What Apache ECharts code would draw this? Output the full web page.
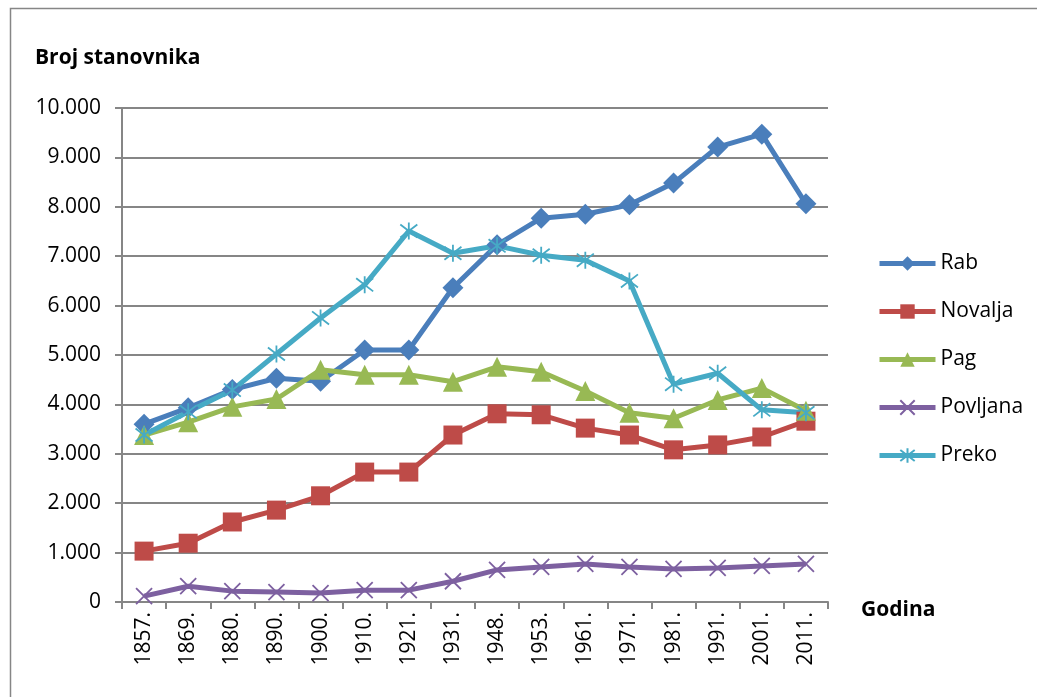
<!DOCTYPE html>
<html>
<head>
<meta charset="utf-8">
<script src="https://cdn.jsdelivr.net/npm/echarts@6/dist/echarts.min.js"></script>
<style>
  html, body { margin: 0; padding: 0; background: #fff; }
  #chart { width: 1037px; height: 697px; }
</style>
</head>
<body>
<div id="chart"></div>
<script>
// godine popisa
const godine = ['1857.', '1869.', '1880.', '1890.', '1900.', '1910.', '1921.', '1931.',
  '1948.', '1953.', '1961.', '1971.', '1981.', '1991.', '2001.', '2011.'];

// broj stanovnika po naselju
const rab = [3600, 3930, 4300, 4530, 4470, 5100, 5100, 6360, 7230, 7770, 7850, 8040, 8480, 9210, 9470, 8060];
const novalja = [1030, 1190, 1620, 1860, 2150, 2630, 2630, 3380, 3810, 3790, 3520, 3380, 3080, 3180, 3340, 3660];
const pag = [3380, 3640, 3950, 4110, 4700, 4600, 4600, 4460, 4760, 4660, 4270, 3830, 3720, 4090, 4330, 3870];
const povljana = [120, 320, 220, 200, 180, 240, 240, 420, 650, 710, 770, 710, 670, 690, 730, 770];
const preko = [3380, 3850, 4290, 5020, 5750, 6420, 7510, 7060, 7210, 7020, 6920, 6500, 4410, 4630, 3890, 3830];

const font = '"Open Sans", Lato, sans-serif';

// simboli
const krizic = 'path://M0,0L10,10M10,0L0,10';
const zvijezda = 'path://M0,0L10,10M10,0L0,10M5,-1.5L5,11.5';

function serija(name, data, color, symbol, size) {
  const linija = symbol.indexOf('path://') === 0;
  return {
    name: name,
    type: 'line',
    data: data,
    symbol: symbol,
    symbolSize: size,
    showAllSymbol: true,
    lineStyle: { color: color, width: 5 },
    itemStyle: linija
      ? { color: 'none', borderColor: color, borderWidth: 1.8 }
      : { color: color },
    emphasis: { disabled: true },
    animation: false
  };
}

const chart = echarts.init(document.getElementById('chart'));
chart.setOption({
  backgroundColor: '#fff',
  textStyle: { fontFamily: font },
  graphic: [
    { type: 'rect', shape: { x: 10.5, y: 8.5, width: 1040, height: 700 },
      style: { fill: 'none', stroke: '#868686', lineWidth: 1.5 } },
    { type: 'text', x: 35, y: 58,
      style: { text: 'Broj stanovnika', font: 'bold 21px ' + font, fill: '#000', verticalAlign: 'middle' } },
    { type: 'text', x: 861, y: 610,
      style: { text: 'Godina', font: 'bold 21px ' + font, fill: '#000', verticalAlign: 'middle' } }
  ],
  legend: {
    orient: 'vertical',
    left: 872,
    top: 248,
    itemGap: 27,
    itemWidth: 56,
    itemHeight: 18,
    lineStyle: { width: 5 },
    textStyle: { fontSize: 21, lineHeight: 18, color: '#000', fontFamily: font },
    data: ['Rab', 'Novalja', 'Pag', 'Povljana', 'Preko']
  },
  grid: { left: 122, right: 209, top: 108, bottom: 95, containLabel: false },
  xAxis: {
    type: 'category',
    data: godine,
    boundaryGap: true,
    axisLine: { lineStyle: { color: '#868686', width: 2 } },
    axisTick: { show: true, length: 7, lineStyle: { color: '#868686', width: 2 } },
    axisLabel: { rotate: 90, fontSize: 21, color: '#000', margin: 10, fontFamily: font }
  },
  yAxis: {
    type: 'value',
    min: 0,
    max: 10000,
    interval: 1000,
    axisLine: { show: true, lineStyle: { color: '#868686', width: 2 } },
    axisTick: { show: true, length: 7, lineStyle: { color: '#868686', width: 2 } },
    splitLine: { lineStyle: { color: '#868686', width: 2 } },
    axisLabel: {
      fontSize: 21, color: '#000', margin: 21, fontFamily: font,
      formatter: v => v.toString().replace(/\B(?=(\d{3})+(?!\d))/g, '.')
    }
  },
  series: [
    serija('Rab', rab, '#4A7EBB', 'diamond', 21),
    serija('Novalja', novalja, '#BE4B48', 'rect', 19),
    serija('Pag', pag, '#98B954', 'triangle', 20),
    serija('Povljana', povljana, '#7D60A0', krizic, 16),
    serija('Preko', preko, '#46AAC5', zvijezda, 17)
  ]
});
</script>
</body>
</html>
